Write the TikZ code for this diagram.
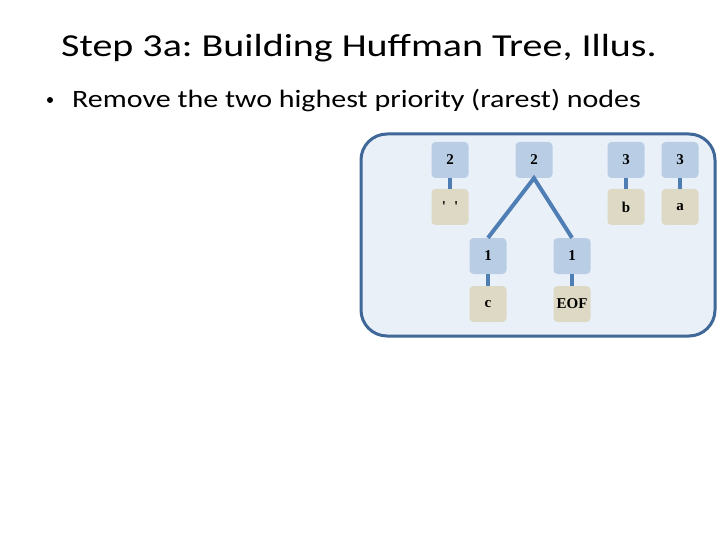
\documentclass[tikz,border=0pt]{standalone}
\usepackage{fontspec}
\setmainfont{Carlito}
\newfontfamily\nodefont{Liberation Serif}
\frenchspacing
\definecolor{panelfill}{HTML}{EAF0F8}
\definecolor{panelborder}{HTML}{3F6797}
\definecolor{keyblue}{HTML}{B9CDE5}
\definecolor{valtan}{HTML}{DDD9C4}
\definecolor{edgeblue}{HTML}{4F7EB5}
\begin{document}
\begin{tikzpicture}[x=1pt,y=-1pt,
  keybox/.style={fill=keyblue,rounded corners=4pt,minimum width=37pt,minimum height=36pt,inner sep=0pt,font=\nodefont\bfseries\fontsize{15}{17}\selectfont},
  valbox/.style={fill=valtan,rounded corners=4pt,minimum width=37pt,minimum height=36pt,inner sep=0pt,font=\nodefont\bfseries\fontsize{15}{17}\selectfont},
  link/.style={draw=edgeblue,line width=4pt},
  stub/.style={draw=edgeblue,line width=4pt}]
\useasboundingbox (0,0) rectangle (720,540);
\fill[white] (0,0) rectangle (720,540);
\node[anchor=base,inner sep=0pt] (title) at (359,57) {\scalebox{1.25}[1]{\fontsize{32}{38}\selectfont Step 3a: Building Huffman Tree, Illus.}};
\fill (50,100) circle (3pt);
\node[anchor=base west,inner sep=0pt] (bullet) at (72,108) {\scalebox{1.2}[1]{\fontsize{25}{30}\selectfont Remove the two highest priority (rarest) nodes}};
\draw[panelborder,line width=3pt,fill=panelfill,rounded corners=26pt] (361,134) rectangle (715,336);
\node[keybox] (k1) at (450,160) {2};
\node[keybox] (k2) at (534,160) {2};
\node[keybox] (k3) at (626,160) {3};
\node[keybox] (k4) at (680,160) {3};
\node[valbox] (v1) at (450,207) {\textquotesingle\hspace{8pt}\textquotesingle};
\node[valbox] (v3) at (626,207) {b};
\node[valbox] (v4) at (680,207) {a};
\node[keybox] (c1) at (488,256) {1};
\node[keybox] (c2) at (572,256) {1};
\node[valbox] (cv1) at (488,304) {c};
\node[valbox] (cv2) at (572,304) {EOF};
\draw[stub] (k1.south) -- (v1.north);
\draw[stub] (k3.south) -- (v3.north);
\draw[stub] (k4.south) -- (v4.north);
\draw[stub] (c1.south) -- (cv1.north);
\draw[stub] (c2.south) -- (cv2.north);
\draw[link,line join=miter] (c1.north) -- (k2.south) -- (c2.north);
\end{tikzpicture}
\end{document}
